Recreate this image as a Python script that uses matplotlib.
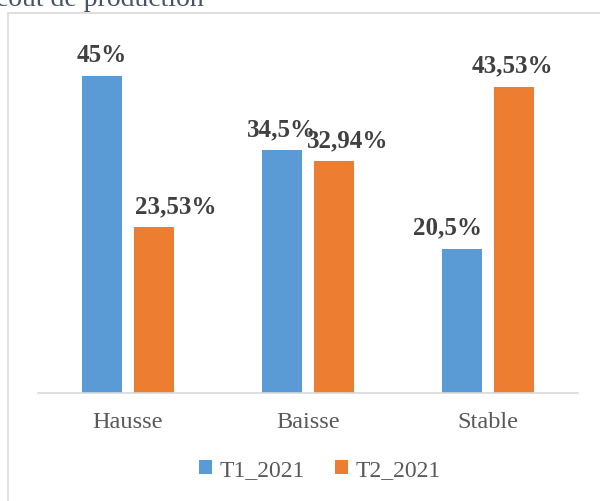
import numpy as np
import matplotlib.pyplot as plt
from matplotlib.patches import Rectangle

categories = ['Hausse', 'Baisse', 'Stable']
t1_values = [45, 34.5, 20.5]
t2_values = [23.53, 32.94, 43.53]
t1_labels = ['45%', '34,5%', '20,5%']
t2_labels = ['23,53%', '32,94%', '43,53%']

plt.rcParams['font.family'] = ['Liberation Serif', 'DejaVu Serif']

fig = plt.figure(figsize=(6, 5.02), dpi=100)
ax = fig.add_axes([38 / 600, 1 - 394 / 502, 540 / 600, 352 / 502])

# cadre du graphique
fig.patches.append(Rectangle((8 / 600, -0.05), 1.0, 1 - 14 / 502 + 0.05,
                             transform=fig.transFigure, fill=False,
                             edgecolor='#d9d9d9', linewidth=1.2))
fig.text(-0.006, 1 - 6 / 502, 'coût de production', fontsize=20,
         color='#44546a', va='baseline')

x = np.arange(len(categories))
w = 40 / 180
gap = 12 / 180
blue = '#5b9bd5'
orange = '#ed7d31'
b1 = ax.bar(x - (w + gap) / 2, t1_values, w, color=blue, label='T1_2021')
b2 = ax.bar(x + (w + gap) / 2, t2_values, w, color=orange, label='T2_2021')

# décalages des étiquettes (pixels)
offsets1 = [0, -1, -15]
offsets2 = [22, 14, -2]
for bars, labels, offs in [(b1, t1_labels, offsets1), (b2, t2_labels, offsets2)]:
    for rect, lab, dx in zip(bars, labels, offs):
        ax.annotate(lab, (rect.get_x() + rect.get_width() / 2, rect.get_height()),
                    xytext=(dx, 15), textcoords='offset pixels', ha='center',
                    va='baseline', fontsize=18, fontweight='bold', color='#404040')

ax.set_xlim(-0.5, 2.5)
ax.set_ylim(0, 50)
ax.set_yticks([])
ax.set_xticks(x)
ax.set_xticklabels(categories, fontsize=17.5, color='#595959')
ax.tick_params(axis='x', length=0, pad=13)
for s in ['top', 'right', 'left']:
    ax.spines[s].set_visible(False)
ax.spines['bottom'].set_color('#d9d9d9')
ax.spines['bottom'].set_linewidth(1.2)

leg = fig.legend(loc='center', bbox_to_anchor=(320 / 600, 1 - 471 / 502),
                 ncol=2, frameon=False, fontsize=17, handlelength=0.55,
                 handleheight=0.55, handletextpad=0.3, columnspacing=1.3)
for t in leg.get_texts():
    t.set_color('#595959')

fig.savefig('out.png', dpi=100)
